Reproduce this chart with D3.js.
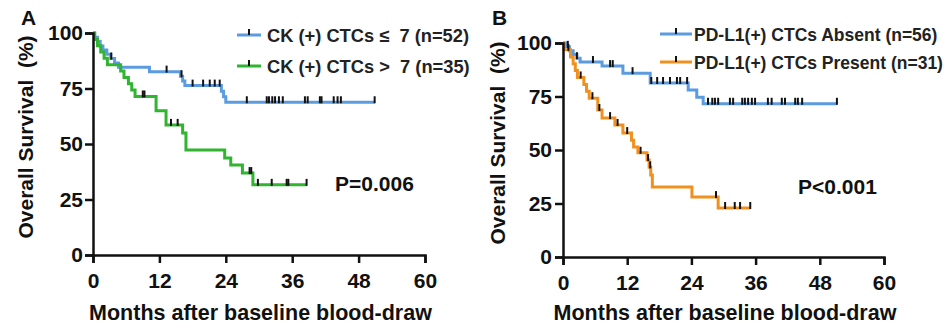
<!DOCTYPE html>
<html><head><meta charset="utf-8">
<script src="https://cdn.jsdelivr.net/npm/d3@7"></script>
<style>
html,body{margin:0;padding:0;background:#fff;}
svg{display:block;font-family:"Liberation Sans",Arial,sans-serif;}
</style></head>
<body><svg id="c" width="948" height="333"></svg>
<script>
// ---- data ----
const xTicks = [0, 12, 24, 36, 48, 60];
const yTicks = [0, 25, 50, 75, 100];

// Panel A: CK(+) CTCs <= 7 (blue), > 7 (green)
const aLowTimes  = [0.3, 0.8, 1.3, 1.8, 2.5, 3.2, 3.9, 4.6, 10.2, 15.8, 16.2, 16.6, 23.2, 23.6, 24.0];
const aLowSurv   = [98.1, 96.2, 94.2, 92.3, 90.4, 88.5, 86.5, 84.6, 82.6, 80.5, 78.4, 76.3, 73.8, 71.3, 68.8];
const aLowCensor = [3.3, 13.3, 16.0, 18.0, 19.9, 21.1, 22.0, 22.9, 27.8, 31.4, 31.8, 32.4, 32.9, 33.6, 34.3, 38.3, 38.8, 41.0, 41.3, 43.5, 44.2, 44.8, 50.9];
const aHighTimes  = [0.3, 0.8, 1.4, 2.0, 2.6, 5.0, 5.6, 6.4, 7.0, 7.6, 11.4, 13.2, 16.2, 16.8, 23.8, 24.9, 27.0, 28.9];
const aHighSurv   = [97.1, 94.3, 91.4, 88.6, 85.7, 82.9, 80.0, 77.1, 74.3, 71.4, 65.0, 58.6, 55.0, 47.3, 43.7, 40.5, 36.9, 31.6];
const aHighCensor = [9.0, 9.3, 14.1, 15.3, 28.3, 28.6, 29.8, 32.3, 35.0, 35.3, 38.6];

// Panel B: PD-L1(+) CTCs absent (blue), present (orange)
const bAbsTimes  = [0.5, 1.2, 1.9, 2.6, 3.2, 7.3, 11.2, 16.3, 23.4, 25.0, 26.2];
const bAbsSurv   = [98.2, 96.4, 94.6, 92.9, 91.1, 89.2, 85.9, 81.3, 78.0, 74.6, 71.6];
const bAbsCensor = [0.9, 2.6, 5.6, 8.8, 9.3, 13.0, 16.5, 17.6, 18.7, 20.0, 21.3, 21.9, 23.2, 27.1, 27.9, 28.4, 29.0, 31.2, 31.8, 33.5, 34.0, 34.6, 35.3, 35.9, 38.3, 39.0, 40.9, 41.5, 43.4, 43.9, 44.7, 51.2];
const bPresTimes  = [0.2, 1.4, 1.9, 2.3, 2.7, 3.9, 4.4, 4.9, 6.5, 7.3, 9.7, 11.2, 12.8, 13.2, 14.0, 15.7, 16.1, 16.4, 16.7, 24.1, 29.0];
const bPresSurv   = [96.8, 93.5, 90.3, 87.1, 83.9, 80.6, 77.4, 74.2, 68.7, 64.9, 61.7, 57.9, 54.6, 51.4, 48.7, 45.3, 41.9, 38.3, 32.7, 28.0, 22.9];
const bPresCensor = [1.0, 3.3, 5.5, 6.8, 8.8, 10.2, 12.0, 14.5, 15.9, 16.3, 28.6, 30.3, 32.1, 33.1, 35.0];

const aLegend = ["CK (+) CTCs \u2264  7 (n=52)", "CK (+) CTCs >  7 (n=35)"];
const bLegend = ["PD-L1(+) CTCs Absent (n=56)", "PD-L1(+) CTCs Present (n=31)"];

const BLUE = "#5b9be0", GREEN = "#2fb52f", ORANGE = "#f0901f";

const svg = d3.select("#c");

function survAt(times, surv, t) {
  let s = 100;
  for (let i = 0; i < times.length; i++) { if (times[i] <= t) s = surv[i]; }
  return s;
}

function panel(cfg) {
  const x = d3.scaleLinear().domain([0, 60]).range(cfg.xr);
  const y = d3.scaleLinear().domain([0, 100]).range(cfg.yr);
  const g = svg.append("g");

  // curves
  cfg.series.forEach(se => {
    const end = d3.max(se.censor);
    const pts = [[0, 100]].concat(se.times.map((t, i) => [t, se.surv[i]]));
    pts.push([end, se.surv[se.surv.length - 1]]);
    g.append("path")
      .attr("d", d3.line().x(d => x(d[0])).y(d => y(d[1])).curve(d3.curveStepAfter)(pts))
      .attr("fill", "none").attr("stroke", se.color).attr("stroke-width", 3);
    g.selectAll(null).data(se.censor).enter().append("line")
      .attr("x1", d => x(d)).attr("x2", d => x(d))
      .attr("y1", d => y(survAt(se.times, se.surv, d)) - 6)
      .attr("y2", d => y(survAt(se.times, se.surv, d)) + 1)
      .attr("stroke", "#111").attr("stroke-width", 2);
  });

  // axes
  const xa = g.append("g").attr("transform", `translate(0,${cfg.yr[0]})`)
    .call(d3.axisBottom(x).tickValues(xTicks).tickSize(8).tickPadding(10));
  const ya = g.append("g").attr("transform", `translate(${cfg.xr[0]},0)`)
    .call(d3.axisLeft(y).tickValues(yTicks).tickSize(8).tickPadding(cfg.ypad));
  [xa, ya].forEach(a => {
    a.select(".domain").attr("stroke", "#111").attr("stroke-width", 2.5);
    a.selectAll(".tick line").attr("stroke", "#111").attr("stroke-width", 2.5);
    a.selectAll(".tick text").attr("fill", "#111").attr("font-size", 21)
      .attr("font-weight", "bold").attr("font-family", "Liberation Sans, Arial, sans-serif");
  });

  // titles
  const xm = (cfg.xr[0] + cfg.xr[1]) / 2;
  g.append("text").attr("x", xm + 1.5).attr("y", 320).attr("text-anchor", "middle")
    .attr("font-size", 21.5).attr("font-weight", "bold").attr("fill", "#111")
    .text("Months after baseline blood-draw");
  const ym = (cfg.yr[0] + cfg.yr[1]) / 2;
  g.append("text").attr("transform", `translate(${cfg.ytx},${ym - 7}) rotate(-90)`)
    .attr("text-anchor", "middle").attr("font-size", 21).attr("font-weight", "bold")
    .attr("fill", "#111").style("white-space", "pre")
    .text("Overall Survival  (%)");
  g.append("text").attr("x", cfg.lab[0]).attr("y", cfg.lab[1])
    .attr("font-size", 21).attr("font-weight", "bold").attr("fill", "#111").text(cfg.label);

  // legend
  cfg.series.forEach((se, i) => {
    const ly = cfg.leg.y[i];
    g.append("line").attr("x1", cfg.leg.x0).attr("x2", cfg.leg.x1).attr("y1", ly).attr("y2", ly)
      .attr("stroke", se.color).attr("stroke-width", 3);
    const cx = (cfg.leg.x0 + cfg.leg.x1) / 2;
    g.append("line").attr("x1", cx).attr("x2", cx).attr("y1", ly - 6).attr("y2", ly)
      .attr("stroke", "#111").attr("stroke-width", 2);
    g.append("text").attr("x", cfg.leg.tx).attr("y", ly + 6.5)
      .attr("font-size", cfg.leg.fs).attr("font-weight", "bold").attr("fill", "#222")
      .style("white-space", "pre").text(cfg.legend[i]);
  });

  g.append("text").attr("x", cfg.p[0]).attr("y", cfg.p[1])
    .attr("font-size", 21).attr("font-weight", "bold").attr("fill", "#111").text(cfg.pText);
}

panel({
  xr: [93, 425], yr: [255, 33], ytx: 33, ypad: 2, label: "A", lab: [21, 25],
  series: [
    {times: aLowTimes, surv: aLowSurv, censor: aLowCensor, color: BLUE},
    {times: aHighTimes, surv: aHighSurv, censor: aHighCensor, color: GREEN}
  ],
  legend: aLegend, leg: {x0: 237, x1: 261, tx: 267, y: [35, 66], fs: 18.3},
  pText: "P=0.006", p: [335, 190.5]
});
panel({
  xr: [563, 884], yr: [257, 43], ytx: 505, ypad: 3, label: "B", lab: [492, 25],
  series: [
    {times: bAbsTimes, surv: bAbsSurv, censor: bAbsCensor, color: BLUE},
    {times: bPresTimes, surv: bPresSurv, censor: bPresCensor, color: ORANGE}
  ],
  legend: bLegend, leg: {x0: 660, x1: 692, tx: 694, y: [34, 62], fs: 17.5},
  pText: "P<0.001", p: [798, 194]
});
</script></body></html>
